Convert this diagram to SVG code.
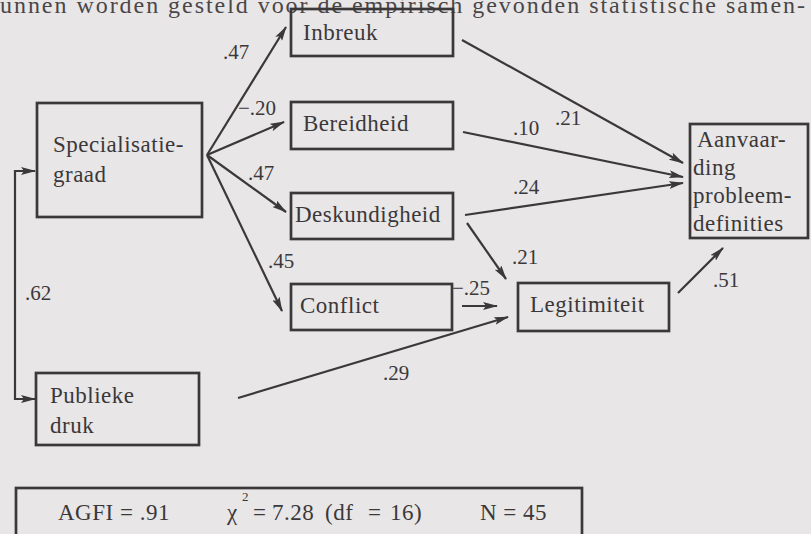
<svg xmlns="http://www.w3.org/2000/svg" width="811" height="534" viewBox="0 0 811 534">
<defs>
<style>
.bg{fill:#e8e6e7}
.box{fill:none;stroke:#3b3839;stroke-width:2.7}
.t{font-family:"Liberation Serif","Times New Roman",serif;font-size:23px;fill:#3b3839;letter-spacing:0.5px}
.lbl{font-family:"Liberation Serif","Times New Roman",serif;font-size:21px;fill:#3b3839}
.top{font-family:"Liberation Serif","Times New Roman",serif;font-size:24px;fill:#4a4647}
.e{fill:none;stroke:#3b3839;stroke-width:2.2;marker-end:url(#ah)}
</style>
<marker id="ah" viewBox="0 0 15 8" refX="14" refY="4" markerWidth="15" markerHeight="8" markerUnits="userSpaceOnUse" orient="auto-start-reverse">
<path d="M0,0 L15,4 L0,8 L3,4 z" fill="#3b3839"/>
</marker>
</defs>
<rect class="bg" x="0" y="0" width="811" height="534"/>
<text class="top" x="0" y="13" textLength="805" lengthAdjust="spacing">unnen worden gesteld voor de empirisch gevonden statistische samen-</text>

<g id="connectors">
<line class="e" x1="207" y1="155" x2="286" y2="27"/>
<line class="e" x1="207" y1="155" x2="284" y2="122"/>
<line class="e" x1="207" y1="155" x2="286" y2="212"/>
<line class="e" x1="207" y1="155" x2="282" y2="311"/>
<line class="e" x1="462" y1="40" x2="683" y2="163"/>
<line class="e" x1="463" y1="132" x2="683" y2="177"/>
<line class="e" x1="465" y1="215" x2="683" y2="183"/>
<line class="e" x1="467" y1="223" x2="506" y2="279"/>
<line class="e" x1="462" y1="306" x2="497" y2="306"/>
<line class="e" x1="238" y1="398" x2="508" y2="317"/>
<line class="e" x1="678" y1="293" x2="723" y2="248"/>
<path class="e" d="M35,171 H15 V399 H35" style="marker-start:url(#ah)"/>
<text class="lbl" x="223" y="59">.47</text>
<text class="lbl" x="238" y="115">−.20</text>
<text class="lbl" x="248" y="180">.47</text>
<text class="lbl" x="268" y="268">.45</text>
<text class="lbl" x="25" y="300">.62</text>
<text class="lbl" x="555" y="125">.21</text>
<text class="lbl" x="513" y="135">.10</text>
<text class="lbl" x="513" y="194">.24</text>
<text class="lbl" x="512" y="264">.21</text>
<text class="lbl" x="452" y="295">−.25</text>
<text class="lbl" x="383" y="380">.29</text>
<text class="lbl" x="713" y="287">.51</text>
</g>

<g id="specialisatie">
<rect class="box" x="37" y="103" width="165" height="114"/>
<text class="t" x="53" y="152">Specialisatie-</text>
<text class="t" x="53" y="182">graad</text>
</g>
<g id="inbreuk">
<rect class="box" x="291" y="9" width="162" height="47"/>
<text class="t" x="303" y="40">Inbreuk</text>
</g>
<g id="bereidheid">
<rect class="box" x="291" y="102" width="162" height="47"/>
<text class="t" x="303" y="131">Bereidheid</text>
</g>
<g id="deskundigheid">
<rect class="box" x="291" y="193" width="162" height="46"/>
<text class="t" x="295" y="222">Deskundigheid</text>
</g>
<g id="conflict">
<rect class="box" x="291" y="284" width="161" height="46"/>
<text class="t" x="300" y="313">Conflict</text>
</g>
<g id="legitimiteit">
<rect class="box" x="518" y="283" width="151" height="48"/>
<text class="t" x="530" y="312">Legitimiteit</text>
</g>
<g id="aanvaarding">
<rect class="box" x="690" y="124" width="118" height="114"/>
<text class="t" x="697" y="147">Aanvaar-</text>
<text class="t" x="693" y="175">ding</text>
<text class="t" x="693" y="203">probleem-</text>
<text class="t" x="693" y="231">definities</text>
</g>
<g id="publieke">
<rect class="box" x="36" y="373" width="163" height="72"/>
<text class="t" x="50" y="403">Publieke</text>
<text class="t" x="50" y="433">druk</text>
</g>
<g id="fit">
<rect class="box" x="16" y="488" width="566" height="60"/>
<text class="t" x="58" y="520">AGFI = .91</text>
<text class="t" x="227" y="520">χ</text>
<text class="t" x="242" y="501" style="font-size:13px">2</text>
<text class="t" x="253" y="520">=</text>
<text class="t" x="272" y="520">7.28</text>
<text class="t" x="325" y="520">(df</text>
<text class="t" x="368" y="520">=</text>
<text class="t" x="390" y="520">16)</text>
<text class="t" x="480" y="520">N = 45</text>
</g>
</svg>
